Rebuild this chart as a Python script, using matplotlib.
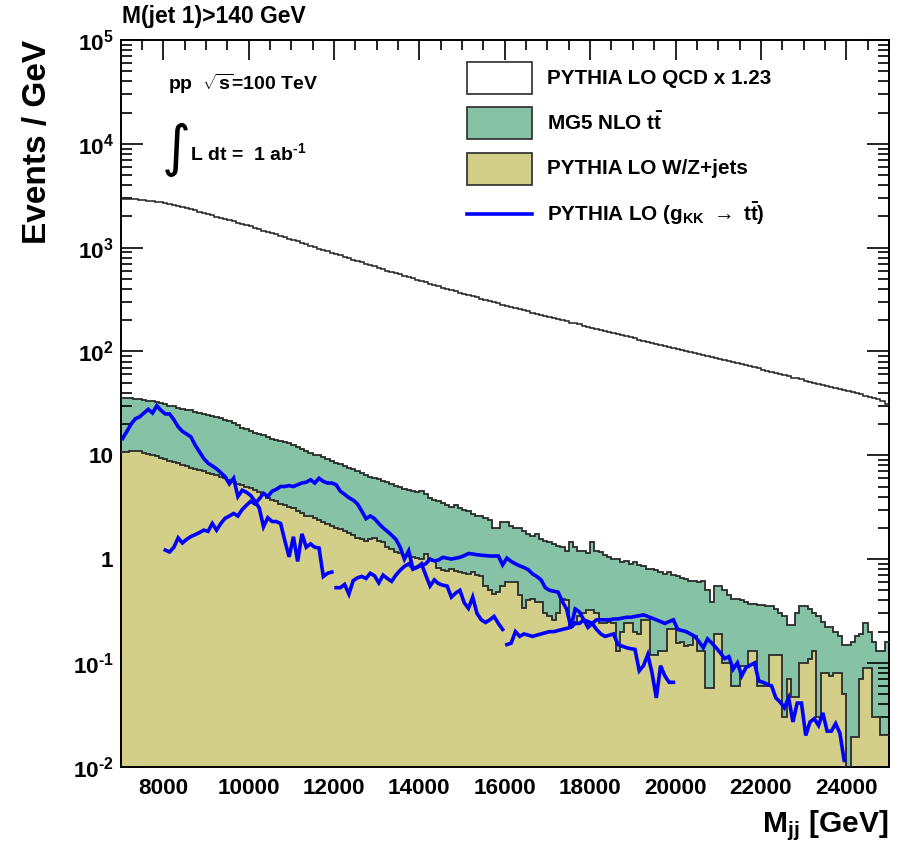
import numpy as np
import matplotlib
matplotlib.use("Agg")
import matplotlib.pyplot as plt
from matplotlib.patches import Rectangle
from matplotlib.lines import Line2D
from matplotlib import font_manager

# ---------------- data ----------------
x_min, x_max = 7000, 25000
bin_w = 100

# PYTHIA LO QCD x 1.23 (100 GeV bins, 7000..25000)
qcd = [2950, 2940, 2930, 2910, 2890, 2870, 2840, 2810, 2770, 2730,
       2680, 2630, 2580, 2520, 2460, 2400, 2340, 2280, 2220, 2160,
       2100, 2050, 1990, 1940, 1890, 1840, 1790, 1740, 1690, 1640,
       1600, 1550, 1510, 1460, 1420, 1380, 1340, 1300, 1260, 1220,
       1180, 1150, 1110, 1080, 1040, 1010, 980, 950, 920, 895,
       865, 840, 815, 790, 765, 745, 720, 700, 680, 660,
       640, 620, 602, 585, 568, 552, 535, 520, 505, 490,
       477, 463, 450, 437, 424, 412, 400, 389, 378, 368,
       358, 349, 340, 331, 322, 314, 306, 298, 290, 283,
       276, 269, 262, 256, 249, 243, 237, 231, 225, 220,
       215, 210, 205, 200, 195, 190, 186, 182, 177, 173,
       169, 165, 161, 157, 154, 150, 147, 143, 140, 137,
       134, 130, 127, 124, 121, 119, 116, 113, 111, 108,
       106, 103.5, 101, 99, 97, 94.5, 92.5, 90.5, 88.5, 86.5,
       84.5, 82.5, 80.5, 79, 77, 75.5, 73.5, 72, 70.5, 69,
       66.5, 65, 63.5, 62, 60.5, 59, 57.5, 56, 55, 54,
       52, 51, 50, 49, 48, 46.5, 45.5, 44.5, 43.5, 42.5,
       41.5, 40.5, 39.5, 38.5, 37.5, 36.5, 35.5, 34.5, 33.5, 31]

# PYTHIA LO W/Z+jets (100 GeV bins)
wz = [10.7, 10.8, 11, 11, 10.9, 10.6, 10.3, 10.0, 9.8, 9.5,
      9.2, 8.9, 8.7, 8.4, 8.1, 7.8, 7.6, 7.4, 7.2, 7.0,
      6.8, 6.6, 6.4, 6.2, 6.0, 5.8, 5.5, 5.3, 5.2, 5.0,
      4.8, 4.6, 4.4, 4.1, 3.9, 3.7, 3.6, 3.4, 3.3, 3.2,
      3.1, 2.9, 2.8, 2.6, 2.6, 2.5, 2.4, 2.3, 2.2, 2.1,
      2.0, 1.95, 1.85, 1.8, 1.7, 1.6, 1.55, 1.5, 1.55, 1.6,
      1.5, 1.45, 1.3, 1.25, 1.17, 1.15, 1.1, 1.07, 1.05, 1.02,
      1.0, 1.12, 0.98, 0.95, 0.82, 0.78, 0.77, 0.8, 0.76, 0.75,
      0.74, 0.72, 0.75, 0.7, 0.68, 0.55, 0.5, 0.46, 0.48, 0.55,
      0.6, 0.6, 0.6, 0.45, 0.34, 0.4, 0.41, 0.39, 0.39, 0.3,
      0.28, 0.26, 0.3, 0.41, 0.4, 0.22, 0.25, 0.28, 0.3, 0.32,
      0.32, 0.3, 0.24, 0.24, 0.25, 0.24, 0.13, 0.2, 0.24, 0.24,
      0.2, 0.19, 0.26, 0.26, 0.12, 0.12, 0.13, 0.13, 0.21, 0.21,
      0.157, 0.16, 0.146, 0.15, 0.18, 0.13, 0.13, 0.057, 0.057, 0.19,
      0.19, 0.1, 0.1, 0.06, 0.06, 0.094, 0.094, 0.13, 0.13, 0.06,
      0.06, 0.06, 0.12, 0.12, 0.12, 0.03, 0.07, 0.047, 0.047, 0.1,
      0.1, 0.11, 0.13, 0.03, 0.08, 0.08, 0.074, 0.08, 0.08, 0.05,
      0.0001, 0.0195, 0.0195, 0.07, 0.09, 0.09, 0.03, 0.03, 0.02, 0.02]

# MG5 NLO ttbar stacked on W/Z+jets (top of the stack, 100 GeV bins)
ttbar_stack = [36, 36, 35.5, 35, 34.5, 34, 33.5, 33, 32.5, 32,
               31, 30, 29.5, 28.5, 28, 27.5, 27, 26, 25.5, 25,
               24.5, 24, 23.5, 23, 22, 21.5, 20.5, 19.5, 18.5, 18,
               17, 16.5, 16, 15.5, 15, 14.5, 14, 13.7, 13.4, 13,
               12.5, 12, 11.5, 11, 10.5, 10, 10, 9.6, 9.2, 8.8,
               8.5, 8.2, 7.8, 7.6, 7.4, 7.1, 6.8, 6.5, 6.2, 6.0,
               5.9, 5.7, 5.5, 5.3, 5.1, 4.9, 4.7, 4.6, 4.5, 4.4,
               4.5, 4.2, 3.9, 3.7, 3.6, 3.5, 3.3, 3.2, 3.3, 3.1,
               3.0, 2.9, 2.7, 2.6, 2.6, 2.5, 2.4, 2.0, 2.0, 2.3,
               2.3, 2.1, 2.0, 2.0, 1.85, 1.75, 1.66, 1.75, 1.55, 1.5,
               1.45, 1.4, 1.33, 1.3, 1.2, 1.45, 1.3, 1.2, 1.2, 1.15,
               1.45, 1.2, 1.17, 1.1, 1.05, 1.0, 1.0, 0.94, 0.96, 0.9,
               0.94, 0.88, 0.85, 0.8, 0.8, 0.78, 0.75, 0.72, 0.75, 0.7,
               0.68, 0.66, 0.64, 0.62, 0.61, 0.6, 0.61, 0.5, 0.39, 0.55,
               0.55, 0.5, 0.45, 0.41, 0.41, 0.4, 0.39, 0.37, 0.37, 0.36,
               0.36, 0.35, 0.35, 0.33, 0.3, 0.28, 0.23, 0.23, 0.3, 0.35,
               0.35, 0.33, 0.3, 0.28, 0.25, 0.22, 0.22, 0.2, 0.18, 0.15,
               0.15, 0.16, 0.18, 0.19, 0.24, 0.2, 0.16, 0.13, 0.13, 0.16]

# PYTHIA LO g_KK -> ttbar, four mass points (100 GeV bins, first bin centre given)
sig_a_start = 7050
sig_a = [14.5, 17, 20, 22.5, 23.5, 25.5, 27.7, 25.5, 30, 27,
         25, 25, 22, 18.8, 17, 16, 15, 12.5, 10.8, 9.3,
         8.4, 7.9, 7.4, 6.8, 6.2, 5.3, 6.0, 4.0, 4.6, 4.4,
         4.1, 3.6, 3.1, 2.05, 2.5, 2.3, 2.3, 2.2, 1.5, 1.05,
         1.64, 0.95, 1.75, 1.3, 1.4, 1.3, 1.28, 0.68, 0.73, 0.75]
sig_b_start = 8050
sig_b = [1.22, 1.17, 1.3, 1.6, 1.43, 1.55, 1.65, 1.72, 1.8, 1.9,
         1.85, 2.2, 1.9, 2.2, 2.47, 2.6, 2.75, 2.6, 3.0, 3.3,
         3.6, 3.4, 3.8, 4.3, 4.0, 4.5, 4.7, 5.0, 5.0, 5.1,
         5.0, 5.2, 5.4, 5.5, 5.8, 5.4, 6.0, 5.6, 5.4, 5.4,
         5.2, 4.5, 4.2, 3.9, 3.7, 3.4, 2.9, 2.45, 2.6, 2.45,
         2.2, 2.0, 1.85, 1.7, 1.55, 1.3, 1.0, 1.2, 0.8, 0.83,
         0.9, 0.7, 0.55, 0.63, 0.58, 0.56, 0.55, 0.43, 0.47, 0.5,
         0.38, 0.335, 0.43, 0.3, 0.26, 0.245, 0.26, 0.28, 0.24, 0.21]
sig_c_start = 12050
sig_c = [0.53, 0.53, 0.57, 0.46, 0.62, 0.66, 0.68, 0.65, 0.73, 0.69,
         0.59, 0.7, 0.65, 0.61, 0.7, 0.78, 0.85, 0.9, 0.81, 0.84,
         0.87, 0.9, 1.0, 0.96, 0.98, 1.04, 1.02, 1.0, 1.02, 1.04,
         1.08, 1.13, 1.12, 1.1, 1.09, 1.08, 1.07, 1.07, 1.07, 0.88,
         1.02, 0.95, 0.9, 0.86, 0.83, 0.79, 0.72, 0.68, 0.63, 0.53,
         0.5, 0.49, 0.48, 0.39, 0.33, 0.22, 0.33, 0.31, 0.26, 0.22,
         0.24, 0.21, 0.19, 0.18, 0.185, 0.19, 0.15, 0.145, 0.14, 0.137,
         0.135, 0.084, 0.094, 0.12, 0.08, 0.046, 0.094, 0.075, 0.065, 0.065]
sig_d_start = 16050
sig_d = [0.15, 0.155, 0.2, 0.18, 0.19, 0.185, 0.18, 0.185, 0.19, 0.195,
         0.2, 0.2, 0.205, 0.21, 0.215, 0.22, 0.24, 0.24, 0.26, 0.25,
         0.24, 0.26, 0.26, 0.26, 0.26, 0.265, 0.265, 0.27, 0.275, 0.275,
         0.28, 0.285, 0.29, 0.28, 0.27, 0.26, 0.25, 0.24, 0.25, 0.26,
         0.21, 0.205, 0.2, 0.19, 0.18, 0.16, 0.14, 0.17, 0.155, 0.14,
         0.125, 0.11, 0.115, 0.087, 0.1, 0.075, 0.09, 0.095, 0.1, 0.067,
         0.065, 0.062, 0.06, 0.046, 0.042, 0.037, 0.046, 0.027, 0.041, 0.041,
         0.02, 0.027, 0.029, 0.025, 0.033, 0.022, 0.022, 0.026, 0.021, 0.0115]

y_tick_vals = [1e-2, 1e-1, 1, 10, 1e2, 1e3, 1e4, 1e5]
y_tick_labels = [r"$10^{\text{-}2}$", r"$10^{\text{-}1}$", "1", "10",
                 r"$10^{2}$", r"$10^{3}$", r"$10^{4}$", r"$10^{5}$"]
x_tick_vals = [8000, 10000, 12000, 14000, 16000, 18000, 20000, 22000, 24000]

legend_labels = ["PYTHIA LO QCD x 1.23", r"MG5 NLO t$\bar{t}$",
                 "PYTHIA LO W/Z+jets", r"PYTHIA LO (g$_{KK}$ $\rightarrow$ t$\bar{t}$)"]

# ---------------- style ----------------
names = {f.name for f in font_manager.fontManager.ttflist}
narrow = "Liberation Sans Narrow" if "Liberation Sans Narrow" in names else "Liberation Sans"
shrink = 1.0 if narrow.endswith("Narrow") else 0.9
plt.rcParams["font.family"] = [narrow, "DejaVu Sans"]
plt.rcParams["font.weight"] = "bold"
plt.rcParams["mathtext.fontset"] = "custom"
plt.rcParams["mathtext.rm"] = narrow + ":bold"
plt.rcParams["mathtext.it"] = narrow + ":bold"
plt.rcParams["mathtext.bf"] = narrow + ":bold"
plt.rcParams["mathtext.default"] = "rm"
plt.rcParams["axes.unicode_minus"] = False

GREEN = "#86c2a5"
YELLOW = "#d4cf88"
EDGE = "#2b2b2b"
BLUE = "#0000ff"

W, H = 900, 849
fig = plt.figure(figsize=(W / 100, H / 100), dpi=100)
L, R, T, B = 120.5, 889, 40, 766.7
ax = fig.add_axes([L / W, 1 - B / H, (R - L) / W, (B - T) / H])

edges = np.arange(x_min, x_max + bin_w, bin_w)
base = 1e-4

ax.stairs(ttbar_stack, edges, fill=True, baseline=base, color=GREEN, zorder=1)
ax.stairs(wz, edges, fill=True, baseline=base, color=YELLOW, zorder=2)
ax.stairs(ttbar_stack, edges, baseline=None, color=EDGE, lw=1.3, zorder=3)
ax.stairs(wz, edges, baseline=None, color=EDGE, lw=1.3, zorder=3)
ax.stairs(qcd, edges, baseline=None, color="#222222", lw=1.1, zorder=3)

for start, vals in [(sig_a_start, sig_a), (sig_b_start, sig_b), (sig_c_start, sig_c), (sig_d_start, sig_d)]:
    xs = start + bin_w * np.arange(len(vals))
    ax.plot(xs, vals, color=BLUE, lw=2.6, zorder=4, solid_joinstyle="miter")

ax.set_yscale("log")
ax.set_xlim(x_min, x_max)
ax.set_ylim(1e-2, 1e5)
ax.set_yticks(y_tick_vals)
ax.set_yticklabels(y_tick_labels)
ax.yaxis.set_minor_locator(matplotlib.ticker.LogLocator(base=10, subs=np.arange(2, 10)))
ax.yaxis.set_minor_formatter(matplotlib.ticker.NullFormatter())
ax.set_xticks(x_tick_vals)
ax.set_xticklabels([str(v) for v in x_tick_vals])
ax.xaxis.set_minor_locator(matplotlib.ticker.MultipleLocator(500))

ax.tick_params(which="both", direction="in", top=True, right=True, width=1.2, labelsize=18 * shrink)
ax.tick_params(axis="x", which="major", length=14.5, pad=8)
ax.tick_params(axis="x", which="minor", length=7.2)
ax.tick_params(axis="y", which="major", length=16, pad=5)
ax.tick_params(axis="y", which="minor", length=8)
for s in ax.spines.values():
    s.set_linewidth(1.4)

# ---------------- texts ----------------
def ftext(x, y, s, **kw):
    fig.text(x / W, 1 - y / H, s, **kw)

ftext(122, 16, "M(jet 1)>140 GeV", fontsize=16.5, va="center", ha="left")
ftext(38, 40, "Events / GeV", fontsize=24, rotation=90, va="top", ha="center",
      family=["Liberation Sans", "DejaVu Sans"])
ftext(888, 826, r"M$_{jj}$ [GeV]", fontsize=24 * shrink, va="center", ha="right")
ftext(168, 84, r"pp  $\sqrt{s}$=100 TeV", fontsize=15 * shrink + 0.5, va="center", ha="left")
ftext(176, 150, "\u222b", fontsize=40, va="center", ha="center", family=["DejaVu Sans"], fontweight="normal")
ftext(190, 153, r"L dt =  1 ab$^{\text{-}1}$", fontsize=15 * shrink + 0.5, va="center", ha="left")

# legend
box_x, box_w, box_h = 467, 65, 31
rows_y = [78, 123, 169, 214]
fills = ["white", GREEN, YELLOW]
for yc, fc in zip(rows_y[:3], fills):
    fig.add_artist(Rectangle((box_x / W, 1 - (yc + box_h / 2) / H), box_w / W, box_h / H,
                             transform=fig.transFigure, facecolor=fc, edgecolor=EDGE, lw=1.2))
fig.add_artist(Line2D([box_x / W, (box_x + box_w) / W], [1 - rows_y[3] / H] * 2,
                      transform=fig.transFigure, color=BLUE, lw=2.6))
for yc, lab in zip(rows_y, legend_labels):
    ftext(547, yc, lab, fontsize=16.5 * shrink, va="center", ha="left")

fig.savefig("out.png", dpi=100)
